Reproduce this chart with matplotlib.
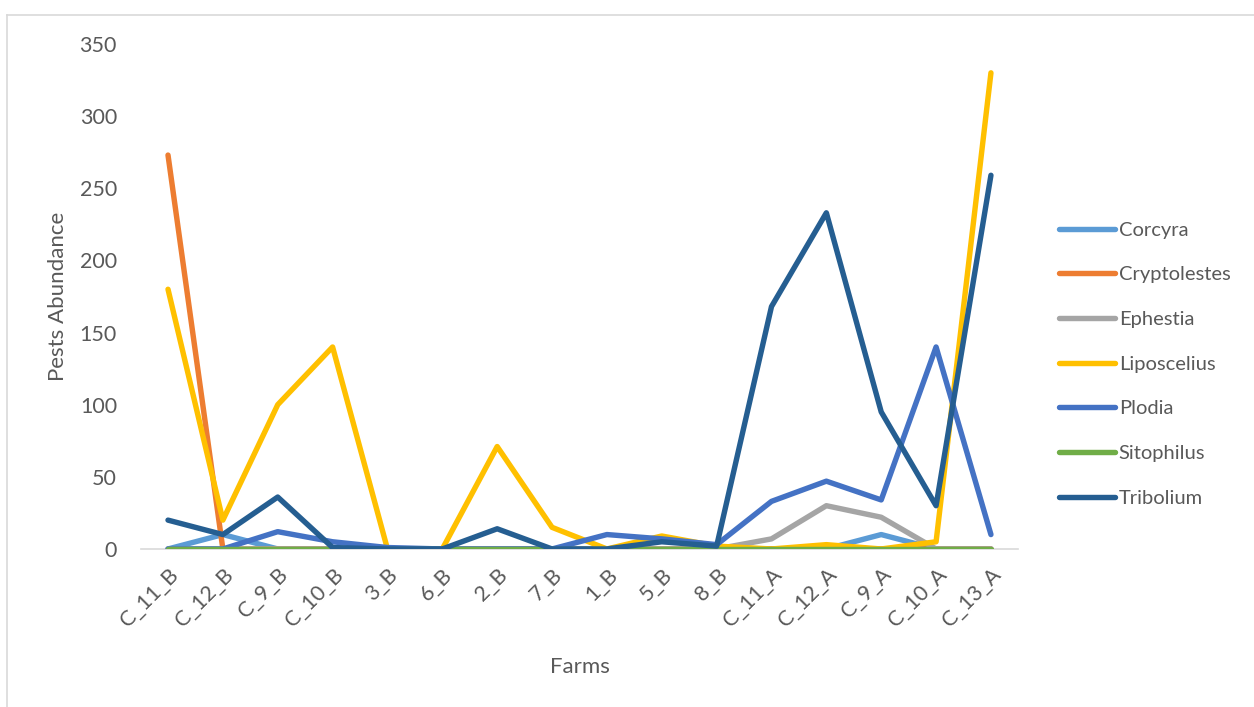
import matplotlib.pyplot as plt
from matplotlib.lines import Line2D

plt.rcParams['font.family'] = ['Lato', 'DejaVu Sans']

farms = ["C_11_B", "C_12_B", "C_9_B", "C_10_B", "3_B", "6_B", "2_B", "7_B",
         "1_B", "5_B", "8_B", "C_11_A", "C_12_A", "C_9_A", "C_10_A", "C_13_A"]

corcyra      = [0, 10, 0, 0, 0, 0, 0, 0, 0, 0, 0, 0, 0, 10, 0, 0]
cryptolestes = [273, 0, 0, 0, 0, 0, 0, 0, 0, 0, 0, 0, 0, 0, 0, 0]
ephestia     = [0, 0, 0, 0, 0, 0, 0, 0, 0, 0, 0, 7, 30, 22, 0, 0]
liposcelius  = [180, 20, 100, 140, 0, 0, 71, 15, 0, 9, 2, 0, 3, 0, 5, 330]
plodia       = [0, 0, 12, 5, 1, 0, 0, 0, 10, 7, 3, 33, 47, 34, 140, 10]
sitophilus   = [0, 0, 0, 0, 0, 0, 0, 0, 0, 0, 0, 0, 0, 0, 0, 0]
tribolium    = [20, 10, 36, 1, 0, 0, 14, 0, 0, 5, 2, 168, 233, 95, 30, 259]

series = [("Corcyra", corcyra, "#5B9BD5"),
          ("Cryptolestes", cryptolestes, "#ED7D31"),
          ("Ephestia", ephestia, "#A5A5A5"),
          ("Liposcelius", liposcelius, "#FFC000"),
          ("Plodia", plodia, "#4472C4"),
          ("Sitophilus", sitophilus, "#70AD47"),
          ("Tribolium", tribolium, "#255E91")]

txt = "#595959"

fig = plt.figure(figsize=(12.54, 7.07), dpi=100)
ax = fig.add_axes([0.1121, 0.2235, 0.700, 0.7143])

x = list(range(len(farms)))
for name, vals, col in series:
    ax.plot(x, vals, color=col, lw=3.9, label=name,
            solid_capstyle='round', solid_joinstyle='round')

ax.set_xlim(-0.5, len(farms) - 0.5)
ax.set_ylim(0, 350)
ax.set_yticks(range(0, 351, 50))
ax.set_xticks(x)
ax.set_xticklabels(farms, rotation=45, ha='right', va='top',
                   rotation_mode='anchor', fontsize=15.5, color=txt)
ax.tick_params(axis='y', labelsize=15.5, colors=txt, length=0, pad=17)
ax.tick_params(axis='x', length=0, pad=11)

for s in ['top', 'right', 'left']:
    ax.spines[s].set_visible(False)
ax.spines['bottom'].set_color('#D9D9D9')
ax.spines['bottom'].set_linewidth(1.2)
ax.spines['bottom'].set_zorder(0)

ax.set_xlabel("Farms", fontsize=16, color=txt, labelpad=19)
ax.set_ylabel("Pests Abundance", fontsize=16, color=txt, labelpad=8)

ax.legend(loc='center left', bbox_to_anchor=(1.026, 0.366), frameon=False,
          fontsize=14.5, labelcolor=txt, handlelength=2.75, handletextpad=0.2,
          labelspacing=1.37)

# chart frame (left and top edges only)
fig.add_artist(Line2D([0.0056, 0.0056], [0, 0.979], color='#D9D9D9', lw=1.2))
fig.add_artist(Line2D([0.0056, 1.0], [0.979, 0.979], color='#D9D9D9', lw=1.2))

fig.savefig("out.png", dpi=100)
